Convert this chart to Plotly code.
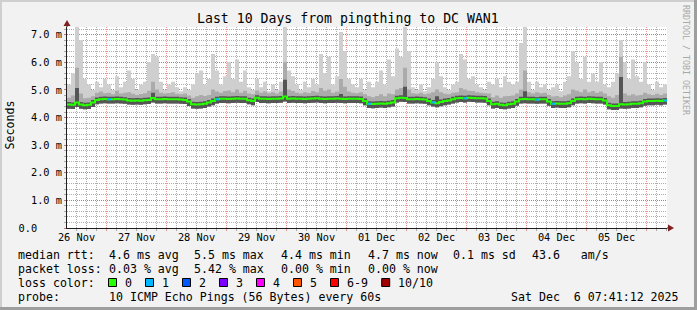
import plotly.graph_objects as go
from datetime import datetime, timedelta

# ---------------- data ----------------
title_text = "Last 10 Days from pingthing to DC WAN1"
start = datetime(2025, 11, 26, 8, 12)
bin_minutes = 96  # 150 bins over 10 days

median = [
    4.47, 4.46, 4.55, 4.47, 4.45, 4.46, 4.55, 4.64, 4.66, 4.67,
    4.66, 4.66, 4.67, 4.66, 4.65, 4.62, 4.61, 4.62, 4.61, 4.63,
    4.64, 4.71, 4.66, 4.66, 4.67, 4.66, 4.66, 4.66, 4.65, 4.64,
    4.58, 4.48, 4.47, 4.48, 4.50, 4.55, 4.60, 4.66, 4.68, 4.68,
    4.67, 4.68, 4.69, 4.68, 4.68, 4.63, 4.60, 4.72, 4.68, 4.68,
    4.67, 4.68, 4.68, 4.69, 4.76, 4.68, 4.69, 4.68, 4.68, 4.67,
    4.68, 4.69, 4.70, 4.68, 4.67, 4.68, 4.68, 4.69, 4.68, 4.67,
    4.68, 4.68, 4.68, 4.67, 4.60, 4.50, 4.49, 4.50, 4.51, 4.50,
    4.52, 4.55, 4.70, 4.72, 4.71, 4.66, 4.66, 4.67, 4.66, 4.65,
    4.60, 4.55, 4.52, 4.56, 4.60, 4.62, 4.66, 4.70, 4.71, 4.70,
    4.72, 4.71, 4.70, 4.70, 4.69, 4.60, 4.48, 4.50, 4.46, 4.45,
    4.48, 4.50, 4.58, 4.66, 4.67, 4.66, 4.66, 4.65, 4.66, 4.66,
    4.58, 4.50, 4.51, 4.50, 4.50, 4.52, 4.60, 4.66, 4.67, 4.66,
    4.68, 4.67, 4.66, 4.66, 4.62, 4.45, 4.42, 4.42, 4.48, 4.47,
    4.48, 4.50, 4.50, 4.52, 4.58, 4.60, 4.60, 4.61, 4.60, 4.62,
]

ping_max = [
    5.2, 5.6, 7.3, 6.8, 5.4, 5.2, 5.0, 5.3, 5.1, 5.4,
    5.2, 5.0, 5.5, 5.1, 5.3, 5.7, 5.4, 5.0, 5.2, 5.3,
    6.0, 6.3, 6.2, 5.3, 5.0, 5.2, 5.3, 5.1, 4.95, 5.1,
    5.0, 5.2, 5.6, 5.7, 5.2, 5.4, 6.3, 5.7, 5.2, 5.5,
    6.0, 5.4, 6.1, 5.3, 5.7, 5.1, 5.0, 5.4, 5.1, 5.3,
    4.95, 5.2, 5.0, 5.3, 7.3, 5.7, 5.5, 5.2, 5.0, 5.3,
    5.1, 5.4, 5.2, 6.3, 5.6, 6.2, 5.2, 5.5, 7.1, 6.4,
    5.4, 5.2, 5.1, 5.4, 5.0, 5.3, 5.1, 5.3, 5.7, 5.2,
    6.1, 5.5, 6.5, 6.2, 7.3, 6.4, 5.1, 5.0, 5.2, 4.95,
    5.1, 5.4, 6.0, 5.5, 5.1, 5.0, 5.2, 5.3, 6.3, 6.1,
    5.4, 5.5, 5.2, 5.1, 5.0, 5.3, 5.2, 5.4, 5.1, 5.5,
    5.3, 5.2, 5.3, 6.7, 7.3, 5.3, 5.0, 5.3, 5.1, 5.2,
    5.0, 5.1, 5.2, 4.95, 5.3, 5.5, 6.4, 6.0, 5.4, 6.2,
    5.3, 5.6, 5.3, 6.0, 5.2, 5.1, 5.3, 5.6, 6.8, 6.0,
    5.4, 6.1, 5.5, 5.3, 6.0, 5.2, 5.0, 5.3, 5.1, 5.2,
]

mid_hi = [
    4.72, 4.80, 5.80, 4.87, 4.70, 4.72, 4.77, 4.90, 4.94, 4.88,
    4.90, 4.84, 4.97, 4.87, 4.90, 4.92, 4.86, 4.82, 4.85, 4.88,
    4.97, 5.30, 5.02, 4.90, 4.87, 4.89, 4.92, 4.86, 4.84, 4.87,
    4.80, 4.72, 4.77, 4.82, 4.78, 4.82, 5.02, 4.94, 4.90, 4.96,
    4.98, 4.92, 5.02, 4.90, 4.97, 4.87, 4.84, 4.98, 4.90, 4.94,
    4.88, 4.92, 4.87, 4.94, 6.00, 5.02, 4.96, 4.90, 4.87, 4.92,
    4.89, 4.96, 4.92, 5.07, 4.97, 5.02, 4.90, 4.94, 5.40, 5.12,
    4.94, 4.90, 4.88, 4.92, 4.84, 4.77, 4.74, 4.78, 4.84, 4.77,
    4.87, 4.84, 5.02, 5.07, 5.80, 5.02, 4.88, 4.86, 4.90, 4.84,
    4.87, 4.92, 5.02, 4.92, 4.86, 4.84, 4.90, 4.92, 5.07, 5.02,
    4.97, 4.96, 4.92, 4.90, 4.88, 4.87, 4.74, 4.80, 4.72, 4.77,
    4.78, 4.80, 4.87, 5.02, 5.70, 4.92, 4.87, 4.92, 4.88, 4.90,
    4.82, 4.76, 4.78, 4.74, 4.80, 4.84, 5.02, 4.97, 4.92, 5.02,
    4.92, 4.96, 4.90, 4.94, 4.87, 4.77, 4.72, 4.82, 6.20, 4.87,
    4.80, 4.84, 4.80, 4.82, 4.90, 4.84, 4.82, 4.86, 4.82, 4.87,
]

dark_hi = [
    4.56, 4.55, 5.07, 4.56, 4.54, 4.55, 4.64, 4.73, 4.75, 4.76,
    4.75, 4.75, 4.76, 4.75, 4.74, 4.71, 4.70, 4.71, 4.70, 4.72,
    4.73, 4.90, 4.75, 4.75, 4.76, 4.75, 4.75, 4.75, 4.74, 4.73,
    4.67, 4.57, 4.56, 4.57, 4.59, 4.64, 4.69, 4.75, 4.77, 4.77,
    4.76, 4.77, 4.78, 4.77, 4.77, 4.72, 4.69, 4.81, 4.77, 4.77,
    4.76, 4.77, 4.77, 4.78, 5.37, 4.77, 4.78, 4.77, 4.77, 4.76,
    4.77, 4.78, 4.79, 4.77, 4.76, 4.77, 4.77, 4.78, 4.85, 4.76,
    4.77, 4.77, 4.77, 4.76, 4.69, 4.59, 4.58, 4.59, 4.60, 4.59,
    4.61, 4.64, 4.79, 4.81, 5.12, 4.75, 4.75, 4.76, 4.75, 4.74,
    4.69, 4.64, 4.77, 4.65, 4.69, 4.71, 4.75, 4.79, 4.80, 4.79,
    4.81, 4.80, 4.79, 4.79, 4.78, 4.69, 4.57, 4.59, 4.55, 4.54,
    4.57, 4.59, 4.67, 4.75, 4.95, 4.75, 4.75, 4.74, 4.75, 4.75,
    4.67, 4.59, 4.60, 4.59, 4.59, 4.61, 4.69, 4.75, 4.76, 4.75,
    4.77, 4.76, 4.75, 4.75, 4.71, 4.54, 4.51, 4.51, 5.47, 4.56,
    4.57, 4.59, 4.59, 4.61, 4.67, 4.69, 4.69, 4.70, 4.69, 4.71,
]

ping_min = [
    4.32, 4.31, 4.38, 4.32, 4.30, 4.31, 4.38, 4.48, 4.51, 4.52,
    4.51, 4.51, 4.52, 4.51, 4.50, 4.47, 4.46, 4.47, 4.46, 4.48,
    4.49, 4.55, 4.51, 4.51, 4.52, 4.51, 4.51, 4.51, 4.50, 4.49,
    4.42, 4.33, 4.32, 4.33, 4.35, 4.40, 4.45, 4.51, 4.53, 4.53,
    4.52, 4.53, 4.54, 4.53, 4.53, 4.48, 4.45, 4.56, 4.53, 4.53,
    4.52, 4.53, 4.53, 4.54, 4.58, 4.53, 4.54, 4.53, 4.53, 4.52,
    4.53, 4.54, 4.55, 4.53, 4.52, 4.53, 4.53, 4.54, 4.53, 4.52,
    4.53, 4.53, 4.53, 4.52, 4.45, 4.35, 4.34, 4.35, 4.36, 4.35,
    4.37, 4.40, 4.55, 4.57, 4.56, 4.51, 4.51, 4.52, 4.51, 4.50,
    4.45, 4.40, 4.37, 4.41, 4.45, 4.47, 4.51, 4.55, 4.56, 4.55,
    4.57, 4.56, 4.55, 4.55, 4.54, 4.45, 4.33, 4.35, 4.31, 4.30,
    4.33, 4.35, 4.43, 4.51, 4.52, 4.51, 4.51, 4.50, 4.51, 4.51,
    4.43, 4.35, 4.36, 4.35, 4.35, 4.37, 4.45, 4.51, 4.52, 4.51,
    4.53, 4.52, 4.51, 4.51, 4.47, 4.30, 4.27, 4.27, 4.33, 4.32,
    4.33, 4.35, 4.35, 4.37, 4.43, 4.45, 4.45, 4.46, 4.45, 4.47,
]

# bins in which 1 of 10 pings was lost
loss_one_bins = [10, 37, 75, 91, 99, 117, 121, 149]

day_labels = ["26 Nov", "27 Nov", "28 Nov", "29 Nov", "30 Nov",
              "01 Dec", "02 Dec", "03 Dec", "04 Dec", "05 Dec"]
y_tick_vals = [0, 1, 2, 3, 4, 5, 6, 7]
y_tick_text = ["0.0\u00a0\u00a0\u00a0\u00a0", "1.0 m", "2.0 m", "3.0 m",
               "4.0 m", "5.0 m", "6.0 m", "7.0 m"]

rtt_values = ["4.6 ms avg", "5.5 ms max", "4.4 ms min", "4.7 ms now",
              "0.1 ms sd", "43.6   am/s"]
loss_values = ["0.03 % avg", "5.42 % max", "0.00 % min", "0.00 % now"]
loss_labels = ["0", "1", "2", "3", "4", "5", "6-9", "10/10"]
loss_colors = ["#26ff00", "#00b8ff", "#0059ff", "#7e00ff",
               "#ff00ff", "#ff5500", "#ff0000", "#a10000"]
probe_text = "10 ICMP Echo Pings (56 Bytes) every 60s"
stamp_text = "Sat Dec  6 07:41:12 2025"

# ---------------- layout geometry (px) ----------------
W, H = 697, 310
PL, PR, PT, PB = 67, 667, 27, 228
FONT = "DejaVu Sans Mono"


def fx(px):
    return (px - PL) / (PR - PL)


def fy(py):
    return (PB - py) / (PB - PT)


n = len(median)
edges = [start + timedelta(minutes=bin_minutes * i) for i in range(n + 1)]
end = edges[-1]


def step(vals):
    return list(vals) + [vals[-1]]


fig = go.Figure()


def band(lo, hi, color):
    fig.add_trace(go.Scatter(x=edges, y=step(lo), mode="lines",
                             line=dict(width=0, shape="hv"),
                             hoverinfo="skip", showlegend=False))
    fig.add_trace(go.Scatter(x=edges, y=step(hi), mode="lines",
                             line=dict(width=0, shape="hv"),
                             fill="tonexty", fillcolor=color,
                             hoverinfo="skip", showlegend=False))


band(ping_min, ping_max, "#cfcfcf")
band(ping_min, mid_hi, "#ababab")
band(ping_min, dark_hi, "#555555")

fig.add_trace(go.Scatter(x=edges, y=step(median), mode="lines",
                         line=dict(color=loss_colors[0], width=2, shape="hv"),
                         hoverinfo="skip", showlegend=False))

lx, ly = [], []
for b in loss_one_bins:
    lx += [edges[b], edges[b + 1], None]
    ly += [median[b], median[b], None]
fig.add_trace(go.Scatter(x=lx, y=ly, mode="lines",
                         line=dict(color=loss_colors[1], width=2),
                         hoverinfo="skip", showlegend=False))

# invisible helper so the grid axis x2 exists
fig.add_trace(go.Scatter(x=[start], y=[0], xaxis="x2", mode="markers",
                         marker=dict(opacity=0), hoverinfo="skip",
                         showlegend=False))

noon = [datetime(2025, 11, 26, 12) + timedelta(days=i) for i in range(len(day_labels))]

minor_col = "rgba(140,140,140,0.7)"
major_col = "rgba(222,79,79,0.6)"

fig.update_layout(
    width=W, height=H, autosize=False,
    margin=dict(l=PL, r=W - PR, t=PT, b=H - PB, pad=0),
    paper_bgcolor="#f2f2f2", plot_bgcolor="#ffffff",
    showlegend=False,
    font=dict(family=FONT, color="black", size=10.3),
    xaxis=dict(type="date", range=[start, end], tickvals=noon, ticktext=day_labels,
               showgrid=False, zeroline=False, ticks="", showline=True,
               linecolor="#1f1f1f", linewidth=1,
               tickfont=dict(family=FONT, size=10.3, color="black"),
               fixedrange=True),
    xaxis2=dict(type="date", range=[start, end], overlaying="x", anchor="y",
                side="bottom", showticklabels=False, showline=False,
                tick0="2025-11-27", dtick=86400000,
                showgrid=True, gridcolor=major_col, griddash="1px,1px",
                gridwidth=1, ticks="outside", ticklen=2, tickcolor=major_col,
                minor=dict(tick0="2025-11-27", dtick=14400000, showgrid=True,
                           gridcolor=minor_col, griddash="1px,1px",
                           ticks="outside", ticklen=2, tickcolor=minor_col),
                fixedrange=True),
    yaxis=dict(range=[0, 7.28], tickvals=y_tick_vals, ticktext=y_tick_text,
               showgrid=True, gridcolor=major_col, griddash="1px,1px",
               zeroline=False, showline=True, linecolor="#1f1f1f", linewidth=1,
               ticks="outside", ticklen=2, tickcolor=major_col,
               minor=dict(dtick=0.2, showgrid=True, gridcolor=minor_col,
                          griddash="1px,1px", ticks="outside", ticklen=2,
                          tickcolor=minor_col),
               tickfont=dict(family=FONT, size=10.3, color="black"),
               fixedrange=True),
)

shapes = []
# 3D frame
shapes.append(dict(type="rect", xref="paper", yref="paper", x0=fx(0), x1=fx(W), y0=fy(0), y1=fy(2),
                   fillcolor="#cfcfcf", line=dict(width=0), layer="above"))
shapes.append(dict(type="rect", xref="paper", yref="paper", x0=fx(0), x1=fx(2), y0=fy(0), y1=fy(H),
                   fillcolor="#cfcfcf", line=dict(width=0), layer="above"))
shapes.append(dict(type="rect", xref="paper", yref="paper", x0=fx(0), x1=fx(W), y0=fy(H - 3), y1=fy(H),
                   fillcolor="#9e9e9e", line=dict(width=0), layer="above"))
shapes.append(dict(type="rect", xref="paper", yref="paper", x0=fx(W - 3), x1=fx(W), y0=fy(0), y1=fy(H),
                   fillcolor="#9e9e9e", line=dict(width=0), layer="above"))
# axis extensions and arrows
shapes.append(dict(type="line", xref="paper", yref="paper", x0=fx(PL), x1=fx(PL), y0=fy(PT), y1=fy(PT - 4),
                   line=dict(color="#1f1f1f", width=1)))
shapes.append(dict(type="line", xref="paper", yref="paper", x0=fx(PR), x1=fx(PR + 3), y0=fy(PB), y1=fy(PB),
                   line=dict(color="#1f1f1f", width=1)))
arrow_col = "#801f1f"
shapes.append(dict(type="path", xref="paper", yref="paper",
                   path=f"M {fx(PL - 3.5)} {fy(PT - 1)} L {fx(PL + 3.5)} {fy(PT - 1)} L {fx(PL)} {fy(PT - 7)} Z",
                   fillcolor=arrow_col, line=dict(width=0)))
shapes.append(dict(type="path", xref="paper", yref="paper",
                   path=f"M {fx(PR + 1)} {fy(PB - 3.5)} L {fx(PR + 1)} {fy(PB + 3.5)} L {fx(PR + 7)} {fy(PB)} Z",
                   fillcolor=arrow_col, line=dict(width=0)))

ann = []


def text(px, py, s, size=11.6, xanchor="left", color="black", angle=0):
    ann.append(dict(x=fx(px), y=fy(py), xref="paper", yref="paper", text=s,
                    showarrow=False, xanchor=xanchor, yanchor="middle",
                    textangle=angle,
                    font=dict(family=FONT, size=size, color=color)))


text(347.5, 18.5, title_text, size=13.2, xanchor="center")
text(9.5, 125, "Seconds", size=11.6, xanchor="center", angle=-90)
text(686, 60, "RRDTOOL / TOBI OETIKER", size=8.3, xanchor="center", color="#a8a8a8", angle=90)

rows = [254.5, 268.5, 282.5, 296.5]
col_x = [106.7, 191.7, 279.3, 366, 451, 530]
text(16, rows[0], "median rtt:")
for s, x in zip(rtt_values, col_x):
    text(x, rows[0], s)
text(16, rows[1], "packet loss:")
for s, x in zip(loss_values, col_x):
    text(x, rows[1], s)
text(16, rows[2], "loss color:")
box_x = [108.5, 145.5, 182.5, 219.5, 256.5, 293.5, 330.5, 381.7]
for lab, col, bx in zip(loss_labels, loss_colors, box_x):
    shapes.append(dict(type="rect", xref="paper", yref="paper",
                       x0=fx(bx), x1=fx(bx + 8), y0=fy(rows[2] - 4), y1=fy(rows[2] + 4),
                       fillcolor=col, line=dict(color="black", width=1)))
    text(bx + 14, rows[2], lab)
text(16, rows[3], "probe:")
text(106.7, rows[3], probe_text)
text(681, rows[3], stamp_text, xanchor="right")

fig.update_layout(shapes=shapes, annotations=ann)
fig.write_html("out.html")
